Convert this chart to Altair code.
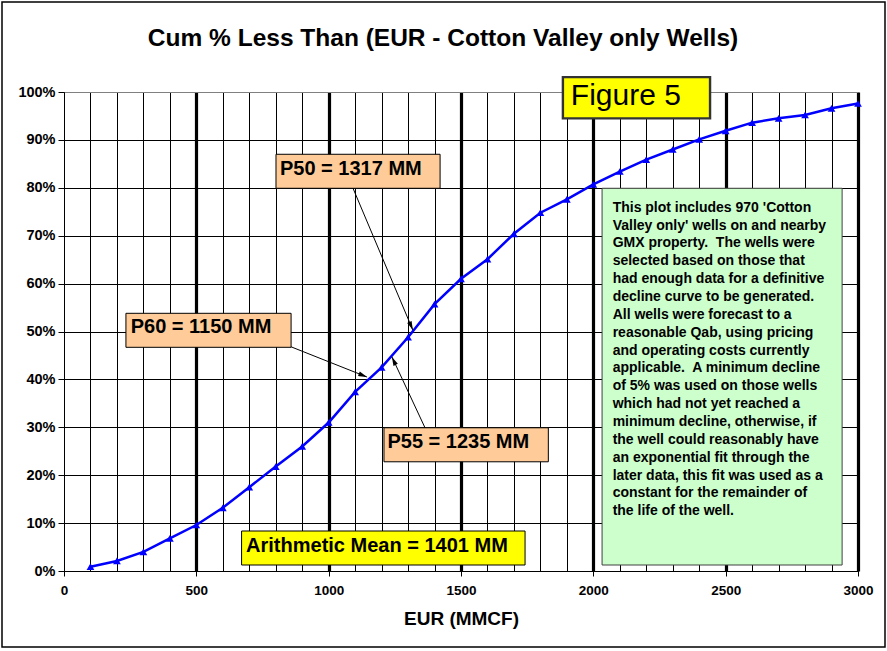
import math
import altair as alt
import pandas as pd

# ---------------- data ----------------
eur = [100, 200, 300, 400, 500, 600, 700, 800, 900, 1000,
       1100, 1200, 1300, 1400, 1500, 1600, 1700, 1800, 1900, 2000,
       2100, 2200, 2300, 2400, 2500, 2600, 2700, 2800, 2900, 3000]
cum_pct = [0.9, 2.1, 4.0, 6.8, 9.6, 13.2, 17.5, 21.8, 26.0, 31.0,
           37.4, 42.5, 48.8, 55.7, 61.0, 65.1, 70.4, 74.8, 77.6, 80.7,
           83.4, 85.9, 88.0, 90.1, 91.9, 93.6, 94.5, 95.2, 96.6, 97.6]

x_ticks = list(range(0, 3001, 100))
y_ticks = list(range(0, 101, 10))

title_text = "Cum % Less Than (EUR - Cotton Valley only Wells)"
x_title = "EUR (MMCF)"

label_texts = ["P50 = 1317 MM", "P60 = 1150 MM", "P55 = 1235 MM",
               "Arithmetic Mean = 1401 MM"]
figure_text = "Figure 5"
note_lines = [
    "This plot includes 970 'Cotton",
    "Valley only' wells on and nearby",
    "GMX property.\u00a0 The wells were",
    "selected based on those that",
    "had enough data for a definitive",
    "decline curve to be generated.",
    "All wells were forecast to a",
    "reasonable Qab, using pricing",
    "and operating costs currently",
    "applicable.\u00a0 A minimum decline",
    "of 5% was used on those wells",
    "which had not yet reached a",
    "minimum decline, otherwise, if",
    "the well could reasonably have",
    "an exponential fit through the",
    "later data, this fit was used as a",
    "constant for the remainder of",
    "the life of the well.",
]

# ---------------- layout (annotation placement, in data units) ----------------
W, H = 794, 479
X_MAX, Y_MAX = 3000, 100
FONT = "Liberation Sans"

boxes = pd.DataFrame({
    "x0": [801, 234, 1209, 671, 1885, 2033],
    "x1": [1421, 858, 1830, 1742, 2441, 2940],
    "y0": [79.9, 46.7, 22.8, 1.25, 94.5, 1.25],
    "y1": [87.0, 53.8, 29.9, 8.35, 103.1, 79.9],
    "fill": ["#FFCC99", "#FFCC99", "#FFCC99", "#FFFF00", "#FFFF00", "#CCFFCC"],
    "stroke": ["#000000", "#000000", "#000000", "#000000", "#333333", "#404040"],
    "sw": [1, 1, 1, 1, 2.4, 1],
})

labels = pd.DataFrame({
    "x": [816, 252, 1222, 688],
    "y": [82.7, 49.7, 25.7, 4.0],
    "text": label_texts,
})

arrows = pd.DataFrame({
    "x0": [1092, 858, 1364],
    "y0": [79.9, 46.8, 29.9],
    "x1": [1318, 1145, 1239],
    "y1": [50.3, 40.5, 44.7],
})
sx, sy = W / X_MAX, H / Y_MAX
arrows["angle"] = [
    (math.degrees(math.atan2((r.x1 - r.x0) * sx, (r.y1 - r.y0) * sy)) + 360) % 360
    for r in arrows.itertuples()
]

curve = pd.DataFrame({"eur": eur, "pct": cum_pct})

x_scale = alt.Scale(domain=[0, X_MAX], nice=False, zero=False)
y_scale = alt.Scale(domain=[0, Y_MAX], nice=False)

x_axis = alt.Axis(
    values=x_ticks, tickCount=len(x_ticks) + 5,
    labelExpr="datum.value % 500 === 0 ? '' + datum.value : ''",
    labelOverlap=False, labelFlush=False,
    grid=True, gridColor="#000000",
    gridWidth={"condition": {"test": "datum.value % 500 === 0 && datum.value > 0", "value": 3.2}, "value": 1},
    tickSize=5, tickColor="#000000",
    tickOpacity={"condition": {"test": "datum.value % 500 === 0", "value": 1}, "value": 0},
    domainColor="#000000", domainWidth=1,
    labelFont=FONT, labelFontSize=13.5, labelFontWeight="bold", labelColor="#000000",
    labelPadding=7,
    title=x_title, titleFont=FONT, titleFontSize=19, titleFontWeight="bold",
    titleColor="#000000", titlePadding=13,
)
y_axis = alt.Axis(
    values=y_ticks, tickCount=len(y_ticks) + 5,
    labelExpr="datum.value + '%'",
    labelOverlap=False, labelFlush=False,
    grid=True,
    gridColor={"condition": {"test": "datum.value === 100", "value": "#808080"}, "value": "#000000"},
    gridWidth=1,
    tickSize=6, tickColor="#000000",
    domainColor="#000000",
    labelFont=FONT, labelFontSize=14.5, labelFontWeight="bold", labelColor="#000000",
    labelPadding=3,
    title=None,
)

base = alt.Chart(curve)

line = base.mark_line(color="#0000FF", strokeWidth=2.5).encode(
    x=alt.X("eur:Q", scale=x_scale, axis=x_axis),
    y=alt.Y("pct:Q", scale=y_scale, axis=y_axis),
)
pts = base.mark_point(shape="triangle-up", filled=True, size=60, color="#0000FF", opacity=1).encode(
    x="eur:Q", y="pct:Q",
)

rects = alt.Chart(boxes).mark_rect().encode(
    x="x0:Q", x2="x1:Q", y="y0:Q", y2="y1:Q",
    fill=alt.Fill("fill:N", scale=None),
    stroke=alt.Stroke("stroke:N", scale=None),
    strokeWidth=alt.StrokeWidth("sw:Q", scale=None),
)

label_layer = alt.Chart(labels).mark_text(
    font=FONT, fontSize=20, fontWeight="bold", align="left", baseline="alphabetic", color="#000000",
).encode(x="x:Q", y="y:Q", text="text:N")

fig_layer = alt.Chart(pd.DataFrame({"x": [1915], "y": [97.3], "t": [figure_text]})).mark_text(
    font=FONT, fontSize=30, align="left", baseline="alphabetic", color="#000000",
).encode(x="x:Q", y="y:Q", text="t:N")

note_layer = alt.Chart(pd.DataFrame({"x": [2073], "y": [75.0]})).mark_text(
    font=FONT, fontSize=14, fontWeight="bold", align="left", baseline="alphabetic",
    color="#000000", lineHeight=17.85, text=note_lines,
).encode(x="x:Q", y="y:Q")

arrow_lines = alt.Chart(arrows).mark_rule(color="#000000", strokeWidth=1).encode(
    x="x0:Q", y="y0:Q", x2="x1:Q", y2="y1:Q",
)
arrow_heads = alt.Chart(arrows).mark_point(
    shape="M0,0L-0.6,2.2L0.6,2.2Z", filled=True, size=64, color="#000000", opacity=1,
).encode(x="x1:Q", y="y1:Q", angle=alt.Angle("angle:Q", scale=None))

title_layer = alt.Chart(pd.DataFrame({"t": [title_text]})).mark_text(
    font=FONT, fontSize=24.5, fontWeight="bold", align="center", baseline="alphabetic",
    color="#000000",
).encode(x=alt.value(443 - 64), y=alt.value(46 - 92), text="t:N")

frame = alt.Chart(pd.DataFrame({"k": [0]})).mark_rect(
    fillOpacity=0, stroke="#000000", strokeWidth=1.5,
).encode(x=alt.value(-62), x2=alt.value(821), y=alt.value(-90), y2=alt.value(555))

chart = alt.layer(
    line, pts, rects, label_layer, fig_layer, note_layer, arrow_lines, arrow_heads,
    title_layer, frame,
).properties(
    width=W, height=H,
    autosize=alt.AutoSizeParams(type="none"),
    padding={"left": 64, "top": 92, "right": 29, "bottom": 80},
    background="#FFFFFF",
).configure_view(stroke="#808080", strokeWidth=1)

chart.save("out.html", embed_options={"renderer": "svg", "actions": False})
